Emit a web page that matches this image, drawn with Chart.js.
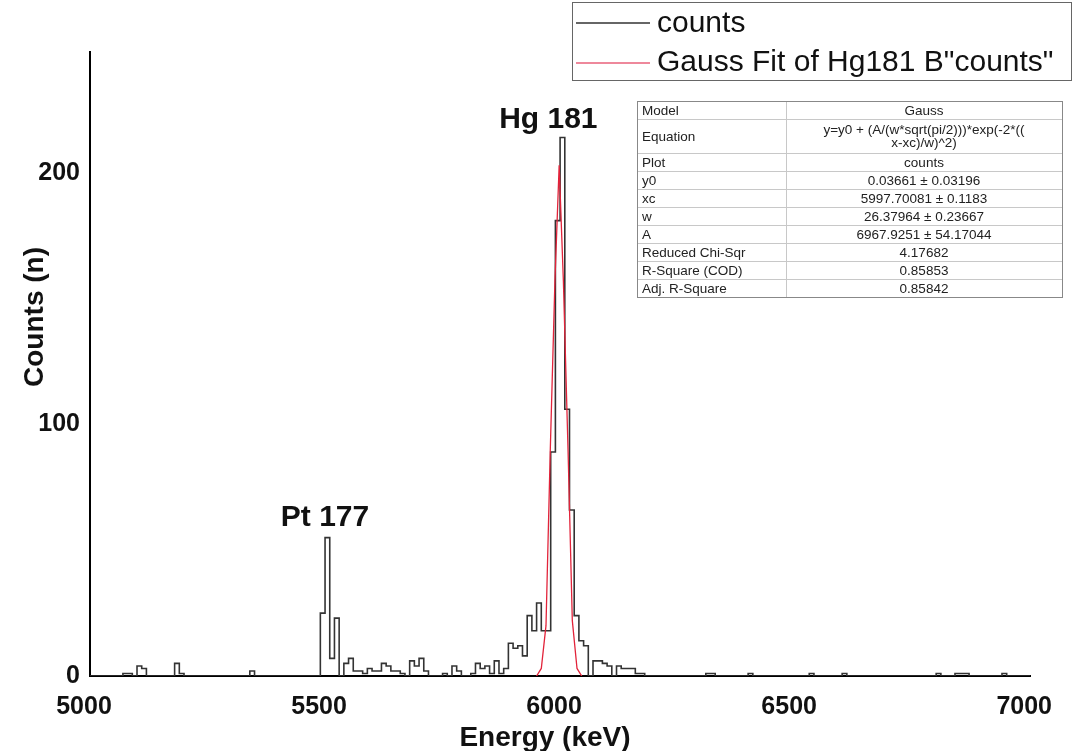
<!DOCTYPE html>
<html>
<head>
<meta charset="utf-8">
<title>Counts vs Energy</title>
<script src="https://cdn.jsdelivr.net/npm/chart.js@4.4.1/dist/chart.umd.min.js"></script>
<style>
  html, body { margin: 0; padding: 0; background: #fff; }
  canvas { display: block; }
</style>
</head>
<body>
<canvas id="spectrum" width="1074" height="751"></canvas>
<script>
// counts per 10 keV bin, first bin starts at 5000 keV (one row = 100 keV)
const binStart = 5000;
const binWidth = 10;
const counts = [
  0, 0, 0, 0, 0, 0, 0, 1, 1, 0,        // 5000
  4, 3, 0, 0, 0, 0, 0, 0, 5, 1,        // 5100
  0, 0, 0, 0, 0, 0, 0, 0, 0, 0,        // 5200
  0, 0, 0, 0, 2, 0, 0, 0, 0, 0,        // 5300
  0, 0, 0, 0, 0, 0, 0, 0, 0, 25,       // 5400
  55, 7, 23, 0, 5, 7, 2, 2, 1, 3,      // 5500
  2, 2, 5, 4, 2, 2, 1, 0, 6, 4,        // 5600
  7, 2, 0, 0, 0, 1, 0, 4, 2, 0,        // 5700
  0, 1, 5, 3, 4, 1, 6, 1, 3, 13,       // 5800
  11, 12, 8, 24, 18, 29, 18, 18, 89, 181, // 5900
  214, 106, 66, 24, 14, 12, 0, 6, 6, 5,   // 6000
  4, 0, 4, 3, 3, 3, 1, 1, 0, 0,        // 6100
  0, 0, 0, 0, 0, 0, 0, 0, 0, 0,        // 6200
  0, 1, 1, 0, 0, 0, 0, 0, 0, 0,        // 6300
  1, 0, 0, 0, 0, 0, 0, 0, 0, 0,        // 6400
  0, 0, 0, 1, 0, 0, 0, 0, 0, 0,        // 6500
  1, 0, 0, 0, 0, 0, 0, 0, 0, 0,        // 6600
  0, 0, 0, 0, 0, 0, 0, 0, 0, 0,        // 6700
  1, 0, 0, 0, 1, 1, 1, 0, 0, 0,        // 6800
  0, 0, 0, 0, 1, 0, 0, 0, 0, 0         // 6900
];

// Gauss fit curve
const fitEnergy = [5950, 5960, 5970, 5979, 5989, 5998, 6007, 6017, 6026, 6036, 6046];
const fitCounts = [0, 3, 20, 89, 157, 203, 157, 89, 22, 3, 0];

const xTicks = [5000, 5500, 6000, 6500, 7000];
const yTicks = [0, 100, 200];

const tableRows = [
  ['Model', 'Gauss'],
  ['Equation', 'y=y0 + (A/(w*sqrt(pi/2)))*exp(-2*((', 'x-xc)/w)^2)'],
  ['Plot', 'counts'],
  ['y0', '0.03661 \u00b1 0.03196'],
  ['xc', '5997.70081 \u00b1 0.1183'],
  ['w', '26.37964 \u00b1 0.23667'],
  ['A', '6967.9251 \u00b1 54.17044'],
  ['Reduced Chi-Sqr', '4.17682'],
  ['R-Square (COD)', '0.85853'],
  ['Adj. R-Square', '0.85842']
];

const FONT = "'Liberation Sans', Arial, sans-serif";
const BLACK = '#333333';
const RED = '#e2233a';

const histPoints = counts.map((c, i) => ({ x: binStart + i * binWidth, y: c }));
histPoints.push({ x: binStart + counts.length * binWidth, y: 0 });
const fitPoints = fitEnergy.map((e, i) => ({ x: e, y: fitCounts[i] }));

// legend, fit table, peak labels and axis titles
const extras = {
  id: 'extras',
  afterDraw(chart) {
    const ctx = chart.ctx;
    const xs = chart.scales.x, ys = chart.scales.y;
    ctx.save();

    // legend box
    ctx.strokeStyle = '#666';
    ctx.lineWidth = 1;
    ctx.strokeRect(572.5, 2.5, 499, 78);
    ctx.lineWidth = 1.3;
    ctx.strokeStyle = BLACK;
    ctx.beginPath(); ctx.moveTo(576, 23); ctx.lineTo(650, 23); ctx.stroke();
    ctx.strokeStyle = '#e8607a';
    ctx.beginPath(); ctx.moveTo(576, 63); ctx.lineTo(650, 63); ctx.stroke();
    ctx.fillStyle = '#111';
    ctx.font = '30px ' + FONT;
    ctx.textAlign = 'left';
    ctx.textBaseline = 'middle';
    ctx.fillText('counts', 657, 24);
    ctx.fillText('Gauss Fit of Hg181 B"counts"', 657, 63);

    // parameter table
    const tl = 637, tr = 1062, split = 786, top = 101;
    const heights = [18, 34, 18, 18, 18, 18, 18, 18, 18, 18];
    let y = top;
    ctx.font = '13.5px ' + FONT;
    ctx.fillStyle = '#222';
    tableRows.forEach((row, i) => {
      const h = heights[i];
      ctx.textAlign = 'left';
      ctx.fillText(row[0], tl + 5, y + h / 2 + 1);
      ctx.textAlign = 'center';
      const cx = (split + tr) / 2;
      if (row.length > 2) {
        ctx.fillText(row[1], cx, y + h / 2 - 6);
        ctx.fillText(row[2], cx, y + h / 2 + 7);
      } else {
        ctx.fillText(row[1], cx, y + h / 2 + 1);
      }
      y += h;
      if (i < tableRows.length - 1) {
        ctx.strokeStyle = '#c8c8c8';
        ctx.lineWidth = 1;
        ctx.beginPath(); ctx.moveTo(tl, Math.round(y) + 0.5); ctx.lineTo(tr, Math.round(y) + 0.5); ctx.stroke();
      }
    });
    ctx.strokeStyle = '#c8c8c8';
    ctx.beginPath(); ctx.moveTo(split + 0.5, top); ctx.lineTo(split + 0.5, y); ctx.stroke();
    ctx.strokeStyle = '#888';
    ctx.strokeRect(tl + 0.5, top + 0.5, tr - tl, y - top);

    // peak labels
    ctx.fillStyle = '#111';
    ctx.font = 'bold 30px ' + FONT;
    ctx.textAlign = 'center';
    ctx.fillText('Hg 181', xs.getPixelForValue(5975), ys.getPixelForValue(221));
    ctx.fillText('Pt 177', xs.getPixelForValue(5500), ys.getPixelForValue(63));

    // axis titles
    ctx.font = 'bold 28px ' + FONT;
    ctx.fillText('Energy (keV)', 545, 738);
    ctx.translate(35, 317);
    ctx.rotate(-Math.PI / 2);
    ctx.fillText('Counts (n)', 0, 0);
    ctx.restore();
  }
};

new Chart(document.getElementById('spectrum').getContext('2d'), {
  type: 'line',
  data: {
    datasets: [
      {
        label: 'counts',
        data: histPoints,
        stepped: true,
        borderColor: BLACK,
        borderWidth: 1.6,
        pointRadius: 0,
        fill: false,
        order: 1
      },
      {
        label: 'Gauss Fit of Hg181 B"counts"',
        data: fitPoints,
        borderColor: RED,
        borderWidth: 1.3,
        pointRadius: 0,
        tension: 0,
        fill: false,
        order: 0
      }
    ]
  },
  options: {
    responsive: false,
    animation: false,
    layout: { padding: { top: 52, right: 42, left: 0, bottom: 0 } },
    plugins: {
      legend: { display: false },
      tooltip: { enabled: false }
    },
    scales: {
      x: {
        type: 'linear',
        min: 5000,
        max: 7000,
        afterBuildTicks: s => { s.ticks = xTicks.map(v => ({ value: v })); },
        afterFit: s => { s.height = 75; },
        grid: { display: false, drawTicks: false, tickLength: 0 },
        border: { display: true, color: '#000', width: 2 },
        ticks: {
          color: '#111',
          padding: 16,
          labelOffset: -6,
          maxRotation: 0,
          callback: v => String(v),
          font: { family: FONT, size: 25, weight: 'bold' }
        }
      },
      y: {
        min: 0,
        max: 248,
        afterBuildTicks: s => { s.ticks = yTicks.map(v => ({ value: v })); },
        afterFit: s => { s.width = 90; },
        grid: { display: false, drawTicks: false, tickLength: 0 },
        border: { display: true, color: '#000', width: 2 },
        ticks: {
          color: '#111',
          padding: 10,
          callback: v => String(v),
          font: { family: FONT, size: 25, weight: 'bold' }
        }
      }
    }
  },
  plugins: [extras]
});
</script>
</body>
</html>
